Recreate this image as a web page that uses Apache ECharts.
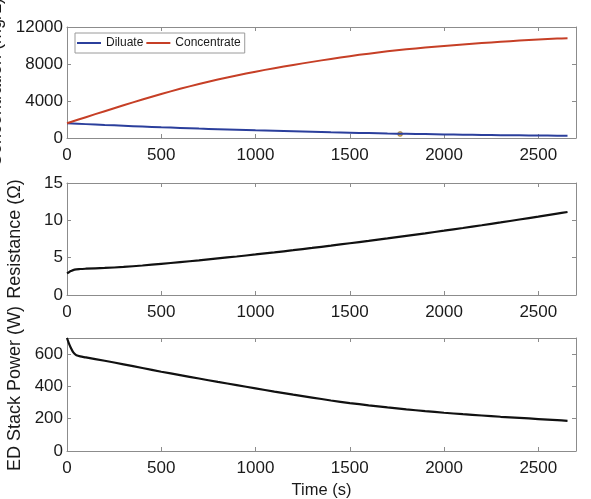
<!DOCTYPE html>
<html><head><meta charset="utf-8">
<script src="https://cdn.jsdelivr.net/npm/echarts@6/dist/echarts.min.js"></script>
<style>html,body{margin:0;padding:0;background:#fff}#c{width:591px;height:499px}</style>
</head><body><div id="c"></div>
<script>
// ---- data ----
const concTime = [0,100,200,300,400,500,600,700,800,900,1000,1100,1200,1300,1400,1500,1600,1700,1800,1900,2000,2100,2200,2300,2400,2500,2600,2655];
const concentrate = [1590,2250,2900,3540,4160,4760,5320,5840,6320,6760,7170,7550,7900,8230,8550,8850,9120,9370,9590,9780,9950,10110,10260,10400,10530,10650,10750,10790];
const diluate = [1590,1500,1410,1325,1240,1160,1085,1015,950,890,830,775,720,670,620,575,530,490,455,420,390,360,335,310,290,270,252,245];
const markerPoint = [[1767,440]];

const resTime = [0,10,20,40,70,100,200,300,400,500,600,700,800,900,1000,1100,1200,1300,1400,1500,1600,1700,1800,1900,2000,2100,2200,2300,2400,2500,2600,2655];
const resistance = [2.9,3.05,3.2,3.4,3.48,3.52,3.62,3.76,3.95,4.17,4.4,4.64,4.9,5.16,5.43,5.71,6.0,6.3,6.61,6.93,7.25,7.58,7.92,8.26,8.61,8.97,9.34,9.72,10.11,10.5,10.9,11.12];

const powTime = [0,10,20,30,40,50,70,100,200,300,400,500,600,700,800,900,1000,1100,1200,1300,1400,1500,1600,1700,1800,1900,2000,2100,2200,2300,2400,2500,2600,2655];
const power = [700,667,640,617,602,593,586,580,559,537,514,491,470,449,428,408,388,368,349,331,313,297,283,270,258,247,237,228,220,212,205,198,191,187];

const xTicks = {min:0, max:2700, interval:500};
const yConc = {min:0, max:12000, interval:4000};
const yRes = {min:0, max:15, interval:5};
const yPow = {min:0, max:700, interval:200};

const pairs = (t, v) => t.map((x, i) => [x, v[i]]);

const FONT = 'Liberation Sans, Arial, Helvetica, sans-serif';
const axisCol = '#8c8c8c';
const grids = [
  {left:67, right:15, top:27, height:111, containLabel:false, outerBoundsMode:'none'},
  {left:67, right:15, top:183, height:112, containLabel:false, outerBoundsMode:'none'},
  {left:67, right:15, top:338, height:113, containLabel:false, outerBoundsMode:'none'}
];
const xAxes = [], yAxes = [];
const yRanges = [yConc, yRes, yPow];
const yNames = ['Concentration (mg/L)', 'Resistance (\u03A9)', 'ED Stack Power (W)'];
const namePads = [[0,0,0,0],[0,0,0,0],[0,0,0,12]];
const plain = v => String(v);
for (let g = 0; g < 3; g++) {
  const base = {gridIndex:g, type:'value', min:xTicks.min, max:xTicks.max, interval:xTicks.interval,
    splitLine:{show:false}, axisLine:{show:true, onZero:false, lineStyle:{color:axisCol, width:1}},
    axisTick:{show:true, inside:true, length:4, lineStyle:{color:axisCol}}};
  xAxes.push(Object.assign({}, base, {position:'bottom',
    axisLabel:{show:true, color:'#1a1a1a', fontSize:17, fontFamily:FONT, margin:9, showMaxLabel:false, formatter:plain},
    name: g === 2 ? 'Time (s)' : '', nameLocation:'middle', nameGap:31,
    nameTextStyle:{color:'#1a1a1a', fontSize:16.5, fontFamily:FONT}}));
  xAxes.push(Object.assign({}, base, {position:'top', axisLabel:{show:false}}));
  const yb = {gridIndex:g, type:'value', min:yRanges[g].min, max:yRanges[g].max, interval:yRanges[g].interval,
    splitLine:{show:false}, axisLine:{show:true, onZero:false, lineStyle:{color:axisCol, width:1}},
    axisTick:{show:true, inside:true, length:4, lineStyle:{color:axisCol}}};
  yAxes.push(Object.assign({}, yb, {position:'left',
    axisLabel:{show:true, color:'#1a1a1a', fontSize:17, fontFamily:FONT, margin:4, showMaxLabel: g === 2 ? false : true, formatter:plain},
    name: yNames[g], nameLocation:'middle', nameGap: 43,
    nameTextStyle:{color:'#1a1a1a', fontSize:18, fontFamily:FONT, padding:namePads[g]}}));
  yAxes.push(Object.assign({}, yb, {position:'right', axisLabel:{show:false}}));
}

const chart = echarts.init(document.getElementById('c'), null, {renderer:'canvas'});
chart.setOption({
  animation:false,
  backgroundColor:'#fff',
  grid: grids,
  xAxis: xAxes,
  yAxis: yAxes,
  legend: {
    left:75, top:33, orient:'horizontal',
    data:['Diluate','Concentrate'],
    icon:'rect',
    itemWidth:24, itemHeight:2, itemGap:3,
    backgroundColor:'#fff', borderColor:'#9a9a9a', borderWidth:1, padding:[4,4,4,2],
    textStyle:{fontSize:12, color:'#1a1a1a', fontFamily:FONT}
  },
  series: [
    {name:'Diluate', type:'line', xAxisIndex:0, yAxisIndex:0, data:pairs(concTime, diluate),
      symbol:'none', smooth:0.3, lineStyle:{color:'#2b3f9c', width:2}, itemStyle:{color:'#2b3f9c'}},
    {name:'Concentrate', type:'line', xAxisIndex:0, yAxisIndex:0, data:pairs(concTime, concentrate),
      symbol:'none', smooth:0.3, lineStyle:{color:'#c63f26', width:2}, itemStyle:{color:'#c63f26'}},
    {name:'marker', type:'scatter', xAxisIndex:0, yAxisIndex:0, data:markerPoint,
      symbolSize:5, itemStyle:{color:'#c8952a', borderColor:'#6b4a10', borderWidth:0.5}},
    {name:'Resistance', type:'line', xAxisIndex:2, yAxisIndex:2, data:pairs(resTime, resistance),
      symbol:'none', smooth:0.3, lineStyle:{color:'#111', width:2.2}},
    {name:'Power', type:'line', xAxisIndex:4, yAxisIndex:4, data:pairs(powTime, power),
      symbol:'none', smooth:0.3, lineStyle:{color:'#111', width:2.2}}
  ]
});
</script></body></html>
